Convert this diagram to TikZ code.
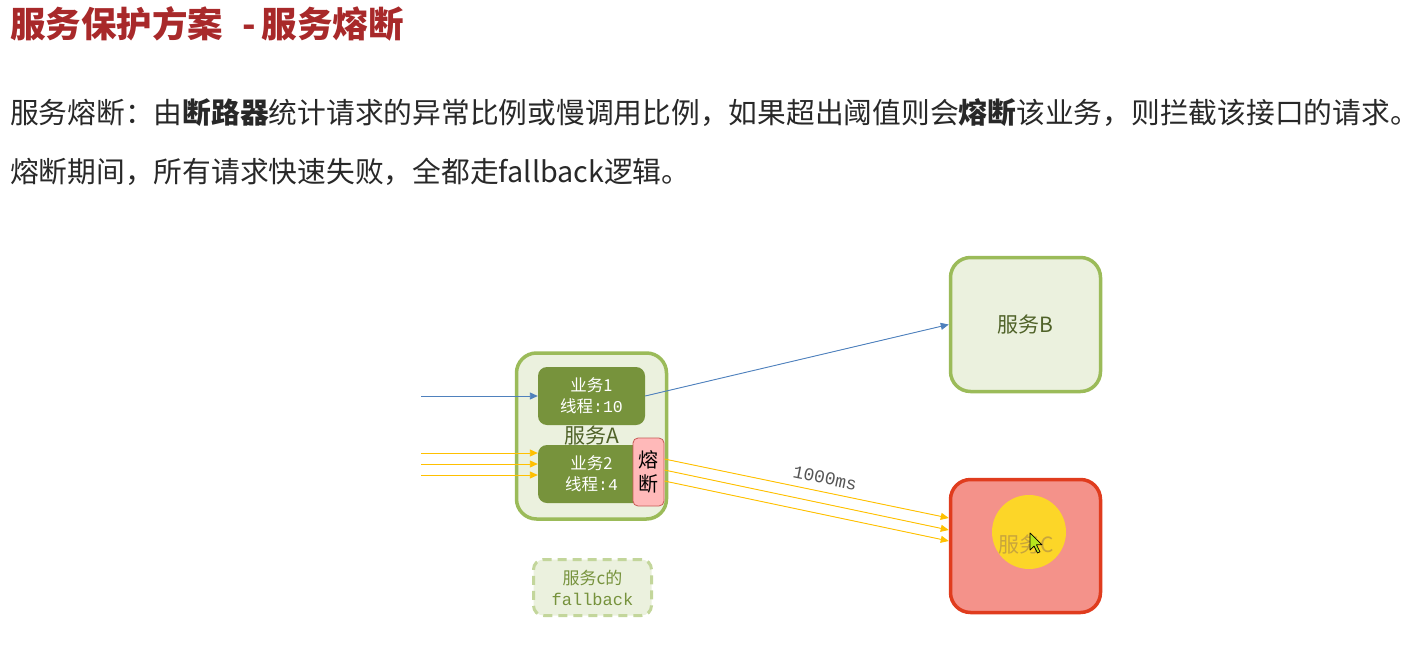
\documentclass[tikz,border=0pt]{standalone}
\usepackage{fontspec}
\setmainfont{Noto Sans CJK SC}
\newfontfamily\monofont{Liberation Mono}
\usetikzlibrary{arrows.meta}

\definecolor{titlered}{RGB}{168,41,42}
\definecolor{bodygray}{RGB}{40,40,40}
\definecolor{svcgreen}{RGB}{155,187,89}
\definecolor{svcfill}{RGB}{235,241,222}
\definecolor{bizolive}{RGB}{119,147,60}
\definecolor{labelgreen}{RGB}{79,98,40}
\definecolor{callblue}{RGB}{79,129,189}
\definecolor{floodyellow}{RGB}{255,192,0}
\definecolor{fusepink}{RGB}{255,185,185}
\definecolor{fusered}{RGB}{200,90,85}
\definecolor{downfill}{RGB}{244,146,138}
\definecolor{downred}{RGB}{224,60,30}
\definecolor{fbgreen}{RGB}{195,214,155}
\definecolor{fbtext}{RGB}{118,146,60}
\definecolor{clickyellow}{RGB}{252,214,40}
\definecolor{cursorgreen}{RGB}{181,230,29}

\begin{document}
\begin{tikzpicture}[x=1pt, y=-1pt,
    >={Triangle[length=8pt,width=7pt]},
    svcbox/.style={draw=svcgreen, line width=3.5pt, fill=svcfill, rounded corners=20pt,
      minimum width=150pt, inner sep=0pt, text=labelgreen, font=\fontsize{21}{24}\selectfont},
    bizbox/.style={fill=bizolive, rounded corners=9pt, minimum width=107pt, minimum height=58pt,
      inner sep=0pt, text=white, align=center, font=\fontsize{16.5}{21}\selectfont},
    call/.style={->, draw=callblue, fill=callblue, line width=0.9pt},
    flood/.style={->, draw=floodyellow, fill=floodyellow, line width=0.9pt}]
        \useasboundingbox (0,0) rectangle (1403,656);

        \node[anchor=west, inner sep=0pt, text=titlered, font=\fontsize{35.5}{40}\selectfont\bfseries] (title) at (10,24)
            {服务保护方案\hspace{19pt}-\hspace{6pt}服务熔断};
        \node[anchor=west, inner sep=0pt, text=bodygray, font=\fontsize{28.75}{34}\selectfont] (line1) at (10,113)
            {服务熔断：由\textbf{断路器}统计请求的异常比例或慢调用比例，如果超出阈值则会\textbf{熔断}该业务，则拦截该接口的请求。};
        \node[anchor=west, inner sep=0pt, text=bodygray, font=\fontsize{28.75}{34}\selectfont] (line2) at (10,172)
            {熔断期间，所有请求快速失败，全都走fallback逻辑。};

        \node[svcbox, minimum height=166pt] (svcA) at (591.5,436) {};
        \node[text=labelgreen, font=\fontsize{21}{24}\selectfont, inner sep=0pt] (nameA) at (592,436) {服务A};
        \node[bizbox] (biz1) at (591.5,396) {业务1\\线程{\monofont :10}};
        \node[bizbox] (biz2) at (591.5,474) {业务2\\线程{\monofont :4}};
        \node[draw=fusered, line width=0.8pt, fill=fusepink, rounded corners=5pt, minimum width=31pt,
            minimum height=68pt, inner sep=0pt, align=center, font=\fontsize{20}{24}\selectfont] (fuse) at (648.5,472) {熔\\断};

        \node[svcbox, minimum height=134pt] (svcB) at (1025.5,324.5) {服务B};

        \node[svcbox, draw=downred, fill=downfill, minimum height=133pt] (svcC) at (1025.5,546) {};
        \fill[clickyellow] (1029,532) circle (37);
        \node[text={rgb,255:red,200;green,165;blue,60}, font=\fontsize{21}{24}\selectfont, inner sep=0pt] (nameC) at (1026,545) {服务C};
        \draw[fill=cursorgreen, line width=0.7pt, line join=round] (1030,533) -- ++(0,17) -- ++(4,-4) -- ++(3.5,7)
            -- ++(2.5,-1.2) -- ++(-3.5,-7) -- ++(5.5,0) -- cycle;

        \node[draw=fbgreen, line width=3pt, dash pattern=on 9pt off 6pt, fill=svcfill, rounded corners=10pt,
            minimum width=118pt, minimum height=56pt, inner sep=0pt, align=center, text=fbtext,
            font=\fontsize{17}{21}\selectfont] (fallback) at (592.5,587.5) {服务c的\\{\monofont fallback}};

        \coordinate (srcA) at (421,396);
        \coordinate (src1) at (421,453);
        \coordinate (src2) at (421,464);
        \coordinate (src3) at (421,475);

        \draw[call] (srcA) -- (biz1.west);
        \draw[call] (biz1.east) -- (svcB.west);

        \draw[flood] (src1) -- ([yshift=21pt]biz2.west);
        \draw[flood] (src2) -- ([yshift=10pt]biz2.west);
        \draw[flood] (src3) -- ([yshift=-1pt]biz2.west);

        \draw[flood] ([yshift=13pt]fuse.east) -- ([yshift=28pt]svcC.west);
        \draw[flood] ([yshift=2pt]fuse.east) -- ([yshift=16pt]svcC.west);
        \draw[flood] ([yshift=-9pt]fuse.east) -- ([yshift=5pt]svcC.west);

        \node[rotate=-11.7, text={rgb,255:red,85;green,85;blue,85}, inner sep=0pt,
            font=\monofont\fontsize{18}{20}\selectfont] (delay) at (825,478) {1000ms};
    \end{tikzpicture}
\end{document}
